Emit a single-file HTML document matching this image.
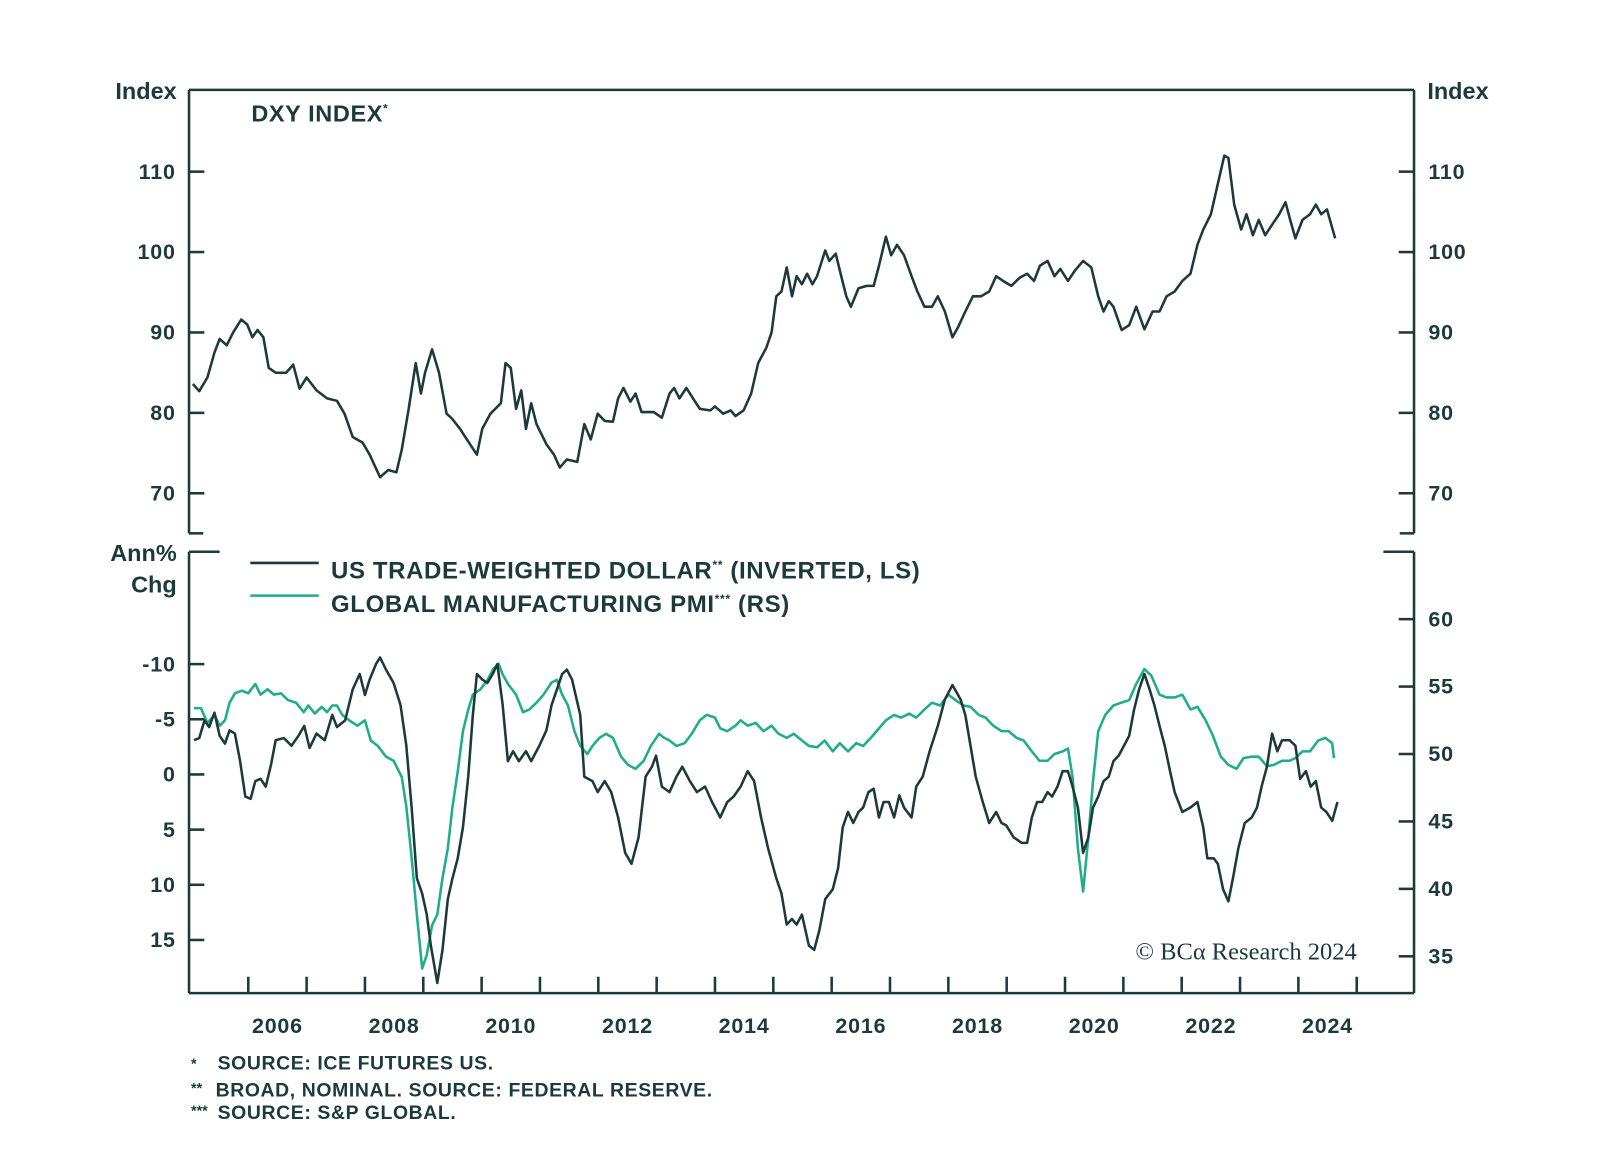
<!DOCTYPE html>
<html><head><meta charset="utf-8">
<style>
html,body{margin:0;padding:0;background:#fff;}
svg{display:block;}
text{font-family:"Liberation Sans",Arial,sans-serif;fill:#1c3a3a;}
.b{font-weight:bold;}
.lg{letter-spacing:0.6px;}
</style></head>
<body>
<svg id="chart" width="1600" height="1157" viewBox="0 0 1600 1157" xmlns="http://www.w3.org/2000/svg">
<g transform="scale(1.0217)">
<g id="frame"></g>
<g id="marks"></g>
<text x="246" y="119" class="b lg" font-size="23">DXY INDEX<tspan font-size="12" dy="-9">*</tspan></text>
<text x="173" y="97" class="b" font-size="23" text-anchor="end">Index</text>
<text x="1397" y="97" class="b" font-size="23">Index</text>
<text x="173" y="549" class="b" font-size="23" text-anchor="end">Ann%</text>
<text x="173" y="580" class="b" font-size="23" text-anchor="end">Chg</text>
<g>
<line x1="245" y1="551" x2="312" y2="551" stroke="#1d3a3a" stroke-width="2.5"/>
<text x="324" y="566" class="b lg" font-size="23.5">US TRADE-WEIGHTED DOLLAR<tspan font-size="12" dy="-9">**</tspan><tspan dy="9"> (INVERTED, LS)</tspan></text>
<line x1="245" y1="583" x2="312" y2="583" stroke="#20ad87" stroke-width="2.5"/>
<text x="324" y="599" class="b lg" font-size="23.5">GLOBAL MANUFACTURING PMI<tspan font-size="12" dy="-9">***</tspan><tspan dy="9"> (RS)</tspan></text>
</g>
<text x="1328" y="939" font-size="24" text-anchor="end" style="font-family:'Liberation Serif',serif">© BCα Research 2024</text>
<g>
<text x="187" y="1046" class="b" font-size="14">*</text>
<text x="213" y="1047" class="b lg" font-size="19">SOURCE: ICE FUTURES US.</text>
<text x="187" y="1070" class="b" font-size="14">**</text>
<text x="211" y="1073" class="b lg" font-size="19">BROAD, NOMINAL. SOURCE: FEDERAL RESERVE.</text>
<text x="187" y="1092" class="b" font-size="14">***</text>
<text x="213" y="1095" class="b lg" font-size="19">SOURCE: S&amp;P GLOBAL.</text>
</g>
</g>
</svg>
<script>
const xTickYears=[2006,2007,2008,2009,2010,2011,2012,2013,2014,2015,2016,2017,2018,2019,2020,2021,2022,2023,2024,2025];
const xLabelYears=[2006,2008,2010,2012,2014,2016,2018,2020,2022,2024];
const topTicks=[70,80,90,100,110];
const botLeftTicks=[-10,-5,0,5,10,15];
const botRightTicks=[35,40,45,50,55,60];

const dxyDates=[2005.05,2005.16,2005.30,2005.42,2005.51,2005.63,2005.74,2005.88,2005.98,2006.07,2006.16,2006.26,2006.35,2006.47,2006.65,2006.77,2006.88,2007.00,2007.17,2007.35,2007.52,2007.65,2007.79,2007.96,2008.08,2008.26,2008.40,2008.54,2008.63,2008.75,2008.87,2008.96,2009.03,2009.15,2009.27,2009.40,2009.49,2009.63,2009.80,2009.92,2010.01,2010.15,2010.33,2010.41,2010.50,2010.59,2010.68,2010.76,2010.85,2010.94,2011.11,2011.24,2011.34,2011.46,2011.64,2011.76,2011.87,2011.99,2012.11,2012.25,2012.34,2012.43,2012.55,2012.64,2012.74,2012.95,2013.09,2013.22,2013.30,2013.39,2013.51,2013.65,2013.74,2013.92,2014.00,2014.14,2014.27,2014.35,2014.49,2014.62,2014.74,2014.88,2014.97,2015.05,2015.14,2015.23,2015.32,2015.40,2015.49,2015.58,2015.67,2015.75,2015.89,2015.96,2016.07,2016.14,2016.25,2016.33,2016.46,2016.60,2016.72,2016.81,2016.93,2017.02,2017.12,2017.24,2017.37,2017.47,2017.59,2017.72,2017.82,2017.94,2018.07,2018.17,2018.29,2018.42,2018.56,2018.70,2018.82,2018.94,2019.08,2019.22,2019.35,2019.47,2019.57,2019.70,2019.82,2019.92,2020.05,2020.17,2020.31,2020.45,2020.57,2020.66,2020.75,2020.83,2020.97,2021.10,2021.22,2021.36,2021.50,2021.62,2021.74,2021.88,2022.01,2022.15,2022.27,2022.37,2022.50,2022.62,2022.73,2022.80,2022.90,2023.02,2023.11,2023.22,2023.32,2023.43,2023.55,2023.67,2023.78,2023.86,2023.95,2024.07,2024.20,2024.30,2024.39,2024.49,2024.63];
const dxyValues=[83.6,82.7,84.4,87.5,89.2,88.4,90,91.6,91,89.4,90.3,89.4,85.6,85,85,86,83,84.4,82.8,81.8,81.5,79.9,77,76.3,74.8,72,72.9,72.6,75.4,80.5,86.2,82.4,85,87.9,85,79.9,79.3,78,76.1,74.8,78,79.9,81.2,86.2,85.6,80.5,82.8,78,81.2,78.6,76.1,74.8,73.2,74.2,73.9,78.6,76.7,79.9,79,78.9,81.8,83.1,81.4,82.4,80.1,80.1,79.4,82.4,83.1,81.8,83.1,81.5,80.5,80.3,80.8,79.9,80.3,79.6,80.3,82.4,86.2,88.1,90,94.5,95.1,98.1,94.5,97,96,97.3,96,97,100.2,98.9,99.8,97.7,94.5,93.2,95.5,95.8,95.8,98.3,101.9,99.6,100.9,99.6,97,95.1,93.2,93.2,94.5,92.6,89.4,90.7,92.6,94.5,94.5,95.1,97,96.4,95.8,96.8,97.3,96.4,98.3,98.9,97,97.9,96.4,97.7,98.9,98.1,94.5,92.6,93.9,93.2,90.3,90.9,93.2,90.4,92.6,92.6,94.5,95.1,96.4,97.3,100.9,102.8,104.7,108.5,112,111.7,105.9,102.8,104.7,102.1,104,102.1,103.4,104.7,106.2,104,101.7,104,104.7,105.9,104.7,105.3,101.7];

const usdDates=[2005.07,2005.16,2005.25,2005.33,2005.42,2005.51,2005.60,2005.68,2005.77,2005.86,2005.95,2006.04,2006.12,2006.21,2006.30,2006.39,2006.47,2006.61,2006.74,2006.86,2006.96,2007.05,2007.17,2007.31,2007.44,2007.52,2007.66,2007.79,2007.91,2008.00,2008.08,2008.19,2008.26,2008.36,2008.49,2008.61,2008.71,2008.80,2008.89,2008.98,2009.06,2009.13,2009.24,2009.33,2009.42,2009.50,2009.59,2009.68,2009.77,2009.85,2009.92,2010.01,2010.10,2010.19,2010.27,2010.36,2010.45,2010.54,2010.64,2010.76,2010.85,2010.99,2011.11,2011.20,2011.29,2011.38,2011.46,2011.55,2011.69,2011.76,2011.90,2011.99,2012.11,2012.22,2012.34,2012.46,2012.57,2012.69,2012.81,2012.92,2012.99,2013.09,2013.22,2013.34,2013.44,2013.57,2013.69,2013.83,2013.95,2014.09,2014.21,2014.32,2014.44,2014.56,2014.67,2014.79,2014.91,2015.05,2015.14,2015.23,2015.32,2015.40,2015.49,2015.61,2015.70,2015.79,2015.89,2016.02,2016.11,2016.19,2016.28,2016.37,2016.46,2016.54,2016.63,2016.72,2016.81,2016.89,2016.98,2017.07,2017.16,2017.24,2017.37,2017.45,2017.56,2017.68,2017.82,2017.94,2018.07,2018.21,2018.29,2018.38,2018.47,2018.59,2018.70,2018.82,2018.91,2018.99,2019.12,2019.26,2019.35,2019.43,2019.52,2019.61,2019.70,2019.78,2019.87,2019.96,2020.05,2020.13,2020.22,2020.31,2020.40,2020.48,2020.57,2020.66,2020.75,2020.83,2020.92,2021.01,2021.10,2021.18,2021.27,2021.36,2021.45,2021.53,2021.62,2021.71,2021.80,2021.88,2022.01,2022.15,2022.27,2022.37,2022.44,2022.55,2022.62,2022.71,2022.80,2022.88,2022.97,2023.08,2023.20,2023.29,2023.37,2023.46,2023.55,2023.64,2023.72,2023.85,2023.95,2024.03,2024.13,2024.21,2024.30,2024.39,2024.48,2024.58,2024.67];
const usdValues=[-3.1,-3.3,-4.9,-4.3,-5.6,-3.5,-2.8,-4,-3.7,-1.2,2,2.2,0.6,0.4,1.1,-0.9,-3.1,-3.3,-2.6,-3.5,-4.4,-2.4,-3.7,-3.1,-5.4,-4.3,-4.9,-7.7,-9.1,-7.2,-8.6,-10,-10.6,-9.5,-8.3,-6.3,-2.6,3,9.4,10.8,12.7,15.5,18.9,15.9,11.3,9.4,7.6,4.8,0.2,-5.4,-9.1,-8.6,-8.3,-9.1,-10,-6.3,-1.2,-2.1,-1.2,-2.1,-1.2,-2.6,-4,-6.3,-7.7,-9.1,-9.5,-8.6,-5.4,0.2,0.6,1.6,0.6,1.6,3.9,7.1,8.1,5.7,0.2,-0.7,-1.7,1.1,1.6,0.2,-0.7,0.6,1.6,1.1,2.5,3.9,2.5,2,1.1,-0.3,0.6,3.9,6.7,9.4,10.8,13.6,13.1,13.6,12.7,15.5,15.9,14.1,11.3,10.4,8.5,4.8,3.4,4.4,3.4,3,1.6,1.3,3.9,2.5,2.5,3.9,1.9,3,3.9,1.1,0.2,-2.1,-4.4,-6.8,-8.1,-6.8,-5.4,-2.6,0.2,2.5,4.4,3.4,4.4,4.6,5.7,6.2,6.2,3.9,2.5,2.5,1.6,2,1.1,-0.3,-0.3,1.1,3,7.1,5.7,3,2,0.6,0.2,-1.2,-1.7,-2.6,-3.5,-5.8,-7.7,-9.1,-7.7,-6.3,-4.4,-2.6,-0.3,1.6,3.4,3,2.5,4.8,7.6,7.6,8.1,10.4,11.5,9.4,6.7,4.4,3.9,3,1.1,-0.7,-3.7,-2.1,-3.1,-3.1,-2.6,0.4,-0.3,1.1,0.6,3,3.4,4.2,2.5];

const pmiDates=[2005.07,2005.19,2005.30,2005.42,2005.51,2005.60,2005.68,2005.77,2005.89,2006.00,2006.12,2006.21,2006.33,2006.44,2006.56,2006.68,2006.82,2006.95,2007.03,2007.14,2007.26,2007.35,2007.44,2007.52,2007.61,2007.73,2007.87,2008.00,2008.10,2008.22,2008.36,2008.49,2008.63,2008.71,2008.80,2008.89,2008.98,2009.06,2009.15,2009.24,2009.33,2009.42,2009.50,2009.59,2009.68,2009.77,2009.85,2009.98,2010.10,2010.20,2010.29,2010.36,2010.45,2010.59,2010.71,2010.82,2010.94,2011.06,2011.20,2011.29,2011.38,2011.48,2011.59,2011.69,2011.81,2011.90,2012.02,2012.13,2012.25,2012.39,2012.51,2012.64,2012.78,2012.90,2013.04,2013.13,2013.22,2013.34,2013.48,2013.60,2013.74,2013.86,2014.00,2014.09,2014.21,2014.35,2014.44,2014.56,2014.70,2014.83,2014.97,2015.09,2015.23,2015.35,2015.49,2015.61,2015.75,2015.88,2016.02,2016.14,2016.28,2016.42,2016.54,2016.67,2016.81,2016.93,2017.07,2017.19,2017.33,2017.45,2017.59,2017.72,2017.86,2018.00,2018.12,2018.26,2018.38,2018.52,2018.64,2018.77,2018.91,2019.03,2019.17,2019.29,2019.43,2019.56,2019.70,2019.82,2019.96,2020.05,2020.13,2020.22,2020.31,2020.40,2020.48,2020.57,2020.69,2020.83,2020.96,2021.10,2021.22,2021.36,2021.48,2021.62,2021.74,2021.88,2022.01,2022.15,2022.27,2022.41,2022.53,2022.67,2022.80,2022.94,2023.06,2023.20,2023.32,2023.46,2023.58,2023.72,2023.85,2023.95,2024.07,2024.20,2024.34,2024.46,2024.58,2024.61];
const pmiValues=[53.4,53.4,52.3,52.9,52.1,52.5,53.8,54.5,54.7,54.5,55.2,54.4,54.8,54.4,54.5,54,53.8,53.1,53.6,53,53.5,53.1,53.6,53.6,52.9,52.5,52.1,52.5,51,50.6,49.8,49.5,48.3,46.1,42.3,38.1,34.1,35.1,37.3,38.1,40.8,43,46.1,48.7,51.7,53.3,54.4,54.8,55.5,56.3,56.7,55.9,55.2,54.4,53.1,53.3,53.8,54.4,55.3,55.5,54.4,53.6,51.7,50.6,50,50.6,51.2,51.5,51.2,49.8,49.2,48.9,49.5,50.6,51.5,51.2,51,50.6,50.8,51.5,52.5,52.9,52.7,51.9,51.7,52.1,52.5,52.1,52.3,51.7,52.1,51.5,51.2,51.5,51,50.6,50.5,51,50.2,50.8,50.2,50.8,50.6,51.2,51.9,52.5,52.9,52.7,53,52.7,53.3,53.8,53.6,54.4,54,53.6,53.5,52.9,52.7,52.1,51.7,51.7,51.2,51,50.2,49.5,49.5,50,50.2,50.4,48.3,43,39.8,43.8,48,51.7,52.9,53.6,53.8,54,55.2,56.3,55.8,54.4,54.2,54.2,54.4,53.3,53.5,52.5,51.4,49.8,49.2,48.9,49.7,49.8,49.8,49.1,49.2,49.5,49.5,49.7,50.2,50.2,51,51.2,50.8,49.7];

const NS="http://www.w3.org/2000/svg";
const DARK="#1d3a3a", GREEN="#20ad87";
const L=185,R=1384;
const x=t=>243+(t-2006)*57.1;
const yTop=v=>168+(110-v)*7.87;
const yBotL=v=>758+v*10.8;
const yBotR=v=>738-(v-50)*13.2;
const frame=document.getElementById('frame');
const marks=document.getElementById('marks');
function mk(tag,attrs,parent){const e=document.createElementNS(NS,tag);for(const k in attrs)e.setAttribute(k,attrs[k]);parent.appendChild(e);return e;}
function ln(x1,y1,x2,y2,name,w){const e=mk('line',{x1,y1,x2,y2,stroke:DARK,'stroke-width':w||2.5},frame);

return e;}
function tx(s,xx,yy,anchor,name){const e=mk('text',{x:xx,y:yy,'text-anchor':anchor,'font-size':21,'font-weight':'bold','letter-spacing':0.8},frame);e.textContent=s;

return e;}
ln(L,88,R,88,'top-panel-top-border');
ln(L,88,L,522,'top-panel-left-axis');
ln(R,88,R,522,'top-panel-right-axis');
ln(L,522,L+14,522,'top-panel-bottom-corner-left');
ln(R-14,522,R,522,'top-panel-bottom-corner-right');
topTicks.forEach(v=>{ln(L,yTop(v),L+15,yTop(v),'top-left-tick');ln(R-15,yTop(v),R,yTop(v),'top-right-tick');
tx(String(v),172,yTop(v)+7,'end','top-left-tick-label');tx(String(v),1398,yTop(v)+7,'start','top-right-tick-label');});
ln(L,540,L,972,'bottom-panel-left-axis');
ln(R,540,R,972,'bottom-panel-right-axis');
ln(L,540,L+30,540,'bottom-panel-top-corner-left');
ln(R-30,540,R,540,'bottom-panel-top-corner-right');
ln(L,972,R,972,'x-axis-line');
botLeftTicks.forEach(v=>{ln(L,yBotL(v),L+15,yBotL(v),'bottom-left-tick');tx(String(v),172,yBotL(v)+7,'end','bottom-left-tick-label');});
botRightTicks.forEach(v=>{ln(R-15,yBotR(v),R,yBotR(v),'bottom-right-tick');tx(String(v),1398,yBotR(v)+7,'start','bottom-right-tick-label');});
xTickYears.forEach(t=>ln(x(t),972,x(t),956,'x-tick'));
xLabelYears.forEach(t=>tx(String(t),x(t+0.5),1011,'middle','x-tick-label'));
function path(dates,vals,yf,color,name){let d='';dates.forEach((t,i)=>{d+=(i?'L':'M')+x(t).toFixed(1)+','+yf(vals[i]).toFixed(1);});
const p=mk('path',{d,fill:'none',stroke:color,'stroke-width':2.5,'stroke-linejoin':'round'},marks);

}
path(dxyDates,dxyValues,yTop,DARK,'dxy-index-line');
path(pmiDates,pmiValues,yBotR,GREEN,'global-pmi-line');
path(usdDates,usdValues,yBotL,DARK,'trade-weighted-dollar-line');
</script>
</body></html>
